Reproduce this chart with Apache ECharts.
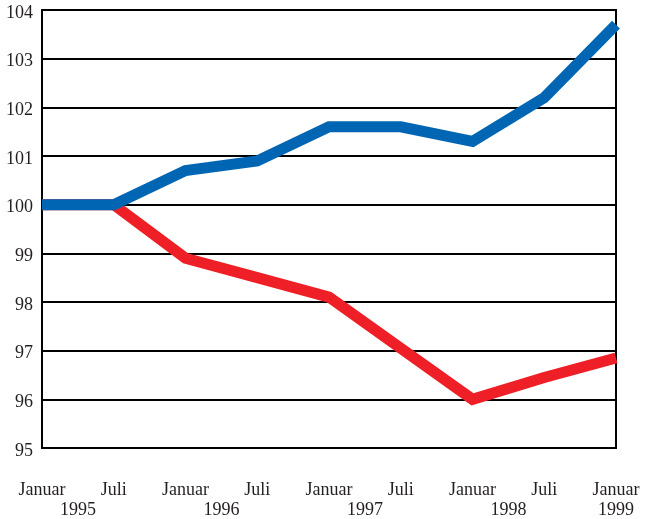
<!DOCTYPE html>
<html>
<head>
<meta charset="utf-8">
<script src="https://cdn.jsdelivr.net/npm/echarts@6/dist/echarts.min.js"></script>
<style>html,body{margin:0;padding:0;background:#fff}#c{width:647px;height:519px}</style>
</head>
<body>
<div id="c"></div>
<script>
const monthLabels = ["Januar","Juli","Januar","Juli","Januar","Juli","Januar","Juli","Januar"];
const yearLabels = ["1995","1996","1997","1998","1999"];
const blueValues = [100, 100, 100.7, 100.9, 101.6, 101.6, 101.3, 102.2, 103.7];
const redValues = [100, 100, 98.9, 98.5, 98.1, 97.05, 96.0, 96.45, 96.85];

// half-step categories for the year row (years sit between Januar and Juli, last under Januar)
const halfCats = [];
for (let i = 0; i < monthLabels.length * 2 - 1; i++) halfCats.push(String(i));
const yearPos = {1: yearLabels[0], 5: yearLabels[1], 9: yearLabels[2], 13: yearLabels[3], 16: yearLabels[4]};

const font = 'Liberation Serif';
const chart = echarts.init(document.getElementById('c'), null, {renderer: 'canvas'});
chart.setOption({
  animation: false,
  backgroundColor: '#fff',
  grid: {left: 42, right: 31, top: 10, bottom: 70, show: true, borderColor: '#000', borderWidth: 2},
  xAxis: [{
    type: 'category', data: monthLabels, boundaryGap: false,
    axisLine: {show: true, lineStyle: {color: '#000', width: 2}},
    axisTick: {show: false}, splitLine: {show: false},
    axisLabel: {interval: 0, margin: 33, color: '#231f20', fontFamily: font, fontSize: 18}
  }, {
    type: 'category', data: halfCats, boundaryGap: false, position: 'bottom',
    axisLine: {show: false}, axisTick: {show: false}, splitLine: {show: false},
    axisLabel: {
      margin: 53, color: '#231f20', fontFamily: font, fontSize: 18,
      interval: (i) => yearPos[i] !== undefined,
      formatter: (v, i) => yearPos[i] || ''
    }
  }],
  yAxis: {
    type: 'value', min: 95, max: 104, interval: 1,
    axisLine: {show: true, lineStyle: {color: '#000', width: 2}},
    axisTick: {show: false},
    splitLine: {show: true, lineStyle: {color: '#000', width: 2}},
    axisLabel: {
      margin: 9, color: '#231f20', fontFamily: font, fontSize: 18,
      formatter: '{a|{value}}',
      rich: {a: {fontFamily: font, fontSize: 18, color: '#231f20', padding: [6, 0, 0, 0]}}
    }
  },
  series: [{
    type: 'line', data: redValues, xAxisIndex: 0, showSymbol: false, symbol: 'none',
    lineStyle: {color: '#ee1f26', width: 11, join: 'miter', cap: 'butt'}
  }, {
    type: 'line', data: blueValues, xAxisIndex: 0, showSymbol: false, symbol: 'none',
    lineStyle: {color: '#0066b3', width: 11, join: 'miter', cap: 'butt'}
  }]
});
</script>
</body>
</html>
